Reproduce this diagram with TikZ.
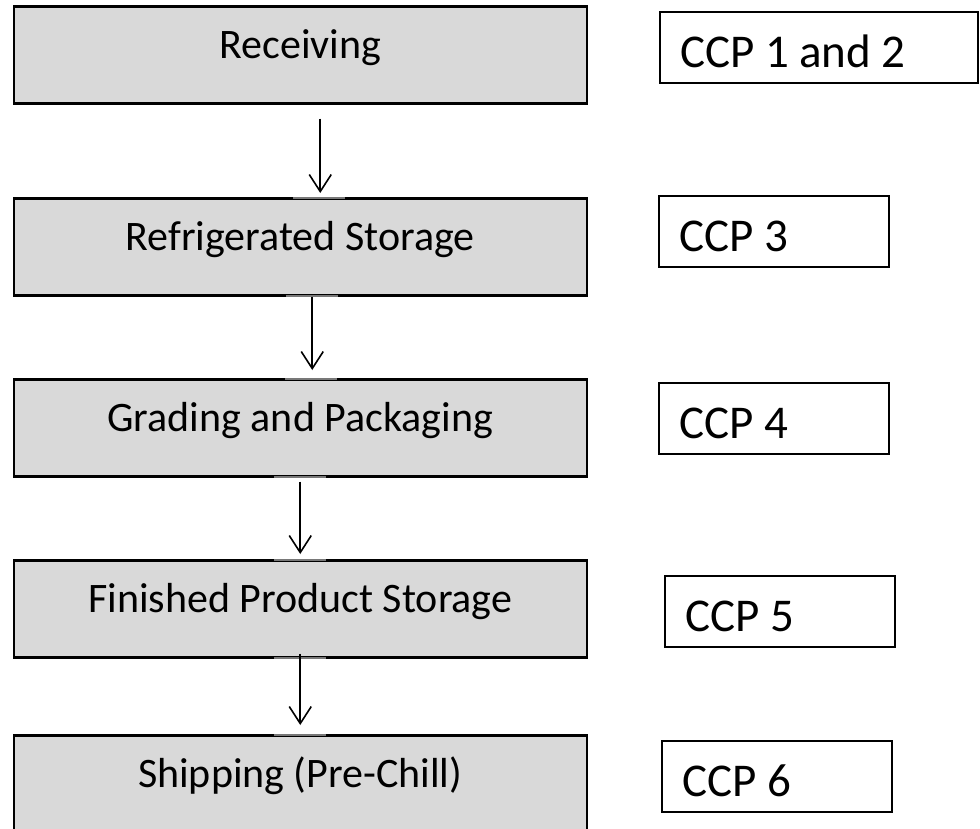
\documentclass[tikz,border=0pt]{standalone}
\usepackage{fontspec}
\setmainfont{Carlito}
\usetikzlibrary{arrows.meta,positioning}
\definecolor{boxgray}{RGB}{217,217,217}
\definecolor{tickgray}{RGB}{120,120,120}

\begin{document}
\begin{tikzpicture}
        [x=1pt, y=-1pt,
         proc/.style={
            draw,
            line width=2.5pt,
            fill=boxgray,
            anchor=north west,
            minimum width=573pt,
            text height=52pt, text depth=45pt, inner ysep=0pt,
            font=\fontsize{42}{50}\selectfont},
         ccp/.style={
            draw,
            line width=2pt,
            anchor=north west,
            text width=#1, align=flush left,
            inner xsep=20pt, inner ysep=0pt,
            text height=55pt, text depth=16pt,
            font=\fontsize{47}{56}\selectfont},
         ccp/.default=190pt,
         flow/.style={-{Straight Barb[length=17pt,width=22pt]}, line width=1.6pt},
         tick/.style={tickgray, line width=2pt}]
        \clip (0,0) rectangle (980,828);
        \fill[white] (0,0) rectangle (980,828);

        % process steps
        \node[proc] (rec) at (12.5,5) {Receiving};
        \node[proc] (ref) at (12.5,197) {Refrigerated Storage};
        \node[proc] (grd) at (12.5,378) {Grading and Packaging};
        \node[proc] (fin) at (12.5,559) {Finished Product Storage};
        \node[proc] (shp) at (12.5,734) {Shipping (Pre-Chill)};

        % control points
        \node[ccp=278pt] (c1) at (659,11) {CCP 1 and 2};
        \node[ccp] (c3) at (658,195) {CCP 3};
        \node[ccp] (c4) at (658,382) {CCP 4};
        \node[ccp] (c5) at (664,575) {CCP 5};
        \node[ccp] (c6) at (661,740) {CCP 6};

        % connector ends
        \draw[tick] ([xshift=-7pt,yshift=-1pt]ref.north) -- ([xshift=45pt,yshift=-1pt]ref.north);
        \draw[tick] ([xshift=-14pt,yshift=1pt]ref.south) -- ([xshift=38pt,yshift=1pt]ref.south);
        \draw[tick] ([xshift=-15pt,yshift=-1pt]grd.north) -- ([xshift=37pt,yshift=-1pt]grd.north);
        \foreach \n in {grd,fin}
          \draw[tick] ([xshift=-26pt,yshift=1pt]\n.south) -- ([xshift=26pt,yshift=1pt]\n.south);
        \foreach \n in {fin,shp}
          \draw[tick] ([xshift=-26pt,yshift=-1pt]\n.north) -- ([xshift=26pt,yshift=-1pt]\n.north);

        % arrows
        \draw[flow] ([xshift=20pt,yshift=-14pt]rec.south) -- ([xshift=20pt,yshift=4pt]ref.north);
        \draw[flow] ([xshift=12pt]ref.south) -- ([xshift=12pt,yshift=8pt]grd.north);
        \draw[flow] ([yshift=-4pt]grd.south) -- ([yshift=5pt]fin.north);
        \draw[flow] ([yshift=5pt]fin.south) -- ([yshift=9pt]shp.north);
      \end{tikzpicture}
\end{document}
